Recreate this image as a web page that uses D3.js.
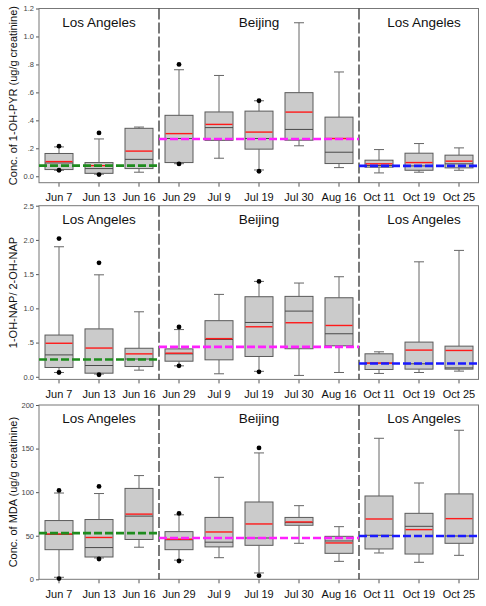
<!DOCTYPE html>
<html>
<head>
<meta charset="utf-8">
<script src="https://cdn.jsdelivr.net/npm/d3@7"></script>
<style>
  html, body { margin: 0; padding: 0; background: #fff; }
  svg { display: block; font-family: "Liberation Sans", Arial, Helvetica, sans-serif; }
</style>
</head>
<body>
<svg id="chart" width="486" height="606"></svg>
<script>
// ---------------- DATA ----------------
const categories = ["Jun 7","Jun 13","Jun 16","Jun 29","Jul 9","Jul 19","Jul 30","Aug 16","Oct 11","Oct 19","Oct 25"];

const sections = ["Los Angeles", "Beijing", "Los Angeles"];
const sectionFirst = ["Jun 7", "Jun 29", "Oct 11"];
const sectionLast  = ["Jun 16", "Aug 16", "Oct 25"];
const sectionLabelAt = ["Jun 13", "Jul 19", "Oct 19"];

// Panel 1: 1-OH-PYR (ug/g creatinine)
const pyrLow    = [0.043, 0.015, 0.029, 0.090, 0.129, 0.045, 0.218, 0.062, 0.024, 0.029, 0.043];
const pyrQ1     = [0.048, 0.021, 0.055, 0.098, 0.257, 0.194, 0.258, 0.091, 0.065, 0.043, 0.060];
const pyrMedian = [0.095, 0.055, 0.121, 0.270, 0.348, 0.270, 0.335, 0.172, 0.077, 0.074, 0.089];
const pyrMean   = [0.105, 0.076, 0.180, 0.305, 0.371, 0.316, 0.459, 0.270, 0.089, 0.098, 0.108];
const pyrQ3     = [0.163, 0.098, 0.343, 0.436, 0.460, 0.466, 0.598, 0.423, 0.115, 0.165, 0.151];
const pyrHigh   = [0.210, 0.267, 0.352, 0.762, 0.721, 0.540, 1.098, 0.746, 0.191, 0.234, 0.203];
const pyrOutliers = [[0.215, 0.043], [0.310, 0.012], [], [0.800, 0.088], [], [0.540, 0.036], [], [], [], [], []];
const pyrReference = [0.076, 0.267, 0.074];
const pyrTicks = [0, 0.2, 0.4, 0.6, 0.8, 1.0, 1.2];
const pyrTickLabels = ["0.0", ".2", ".4", ".6", ".8", "1.0", "1.2"];
const pyrDomain = [-0.046, 1.2];
const pyrTitle = "Conc. of 1-OH-PYR (ug/g creatinine)";

// Panel 2: 1-OH-NAP / 2-OH-NAP
const napLow    = [0.063, 0.040, 0.097, 0.160, 0.044, 0.080, 0.020, 0.063, 0.049, 0.063, 0.083];
const napQ1     = [0.136, 0.053, 0.150, 0.228, 0.248, 0.297, 0.410, 0.453, 0.107, 0.112, 0.112];
const napMedian = [0.320, 0.165, 0.260, 0.335, 0.545, 0.794, 0.960, 0.629, 0.200, 0.190, 0.130];
const napMean   = [0.490, 0.420, 0.335, 0.345, 0.558, 0.731, 0.790, 0.750, 0.200, 0.390, 0.385];
const napQ3     = [0.610, 0.700, 0.417, 0.408, 0.820, 1.170, 1.175, 1.155, 0.336, 0.507, 0.448];
const napHigh   = [1.900, 1.490, 0.950, 0.690, 1.204, 1.394, 1.370, 1.462, 0.365, 1.680, 1.847];
const napOutliers = [[2.02, 0.063], [1.665, 0.030], [], [0.728, 0.160], [], [1.394, 0.073], [], [], [], [], []];
const napReference = [0.252, 0.437, 0.195];
const napTicks = [0, 0.5, 1.0, 1.5, 2.0, 2.5];
const napTickLabels = ["0.0", ".5", "1.0", "1.5", "2.0", "2.5"];
const napDomain = [-0.038, 2.5];
const napTitle = "1-OH-NAP/ 2-OH-NAP";

// Panel 3: MDA (ug/g creatinine)
const mdaLow    = [2.3, 24.5, 36.8, 22.0, 24.8, 7.3, 41.3, 20.6, 30.2, 19.5, 27.5];
const mdaQ1     = [34.0, 25.6, 45.7, 34.0, 37.2, 39.0, 62.0, 29.8, 34.8, 29.0, 41.3];
const mdaMedian = [51.5, 36.4, 72.5, 45.3, 42.6, 47.4, 65.0, 44.0, 50.5, 60.8, 49.7];
const mdaMean   = [52.0, 48.0, 74.8, 46.0, 54.3, 63.5, 65.8, 41.7, 69.2, 57.0, 69.6];
const mdaQ3     = [67.4, 68.6, 104.3, 54.7, 71.0, 88.7, 71.0, 49.3, 95.6, 75.7, 98.0];
const mdaHigh   = [99.0, 98.4, 119.0, 74.0, 117.0, 145.0, 84.5, 60.4, 161.8, 110.5, 171.0];
const mdaOutliers = [[102, 0.8], [106.6, 23.3], [], [75.6, 21], [], [150.7, 4.2], [], [], [], [], []];
const mdaReference = [53.0, 47.4, 49.7];
const mdaTicks = [0, 50, 100, 150, 200];
const mdaTickLabels = ["0", "50", "100", "150", "200"];
const mdaDomain = [0, 200];
const mdaTitle = "Conc. of MDA (ug/g creatinine)";

const referenceColors = ["#1e8c1e", "#ff20ff", "#1a1aff"];

// ---------------- LAYOUT ----------------
const svg = d3.select("#chart");
const plotLeft = 39, plotRight = 478.5;
const x = d3.scaleBand().domain(categories).range([39, 479]).paddingInner(0).paddingOuter(0);
const cx = c => x(c) + x.bandwidth() / 2;
const boxW = 28, capW = 10;

const panels = [
  { low: pyrLow, q1: pyrQ1, med: pyrMedian, mean: pyrMean, q3: pyrQ3, high: pyrHigh, out: pyrOutliers,
    ref: pyrReference, ticks: pyrTicks, tickLabels: pyrTickLabels, domain: pyrDomain, title: pyrTitle,
    top: 8.5, bottom: 182.7 },
  { low: napLow, q1: napQ1, med: napMedian, mean: napMean, q3: napQ3, high: napHigh, out: napOutliers,
    ref: napReference, ticks: napTicks, tickLabels: napTickLabels, domain: napDomain, title: napTitle,
    top: 205.7, bottom: 379.4 },
  { low: mdaLow, q1: mdaQ1, med: mdaMedian, mean: mdaMean, q3: mdaQ3, high: mdaHigh, out: mdaOutliers,
    ref: mdaReference, ticks: mdaTicks, tickLabels: mdaTickLabels, domain: mdaDomain, title: mdaTitle,
    top: 405, bottom: 579.3 }
];

function divX(i) { // divider between section i and i+1
  return (cx(sectionLast[i]) + cx(sectionFirst[i + 1])) / 2;
}

panels.forEach((p, pi) => {
  const y = d3.scaleLinear().domain(p.domain).range([p.bottom, p.top]);
  const g = svg.append("g");

  // y axis
  const ya = g.append("g").attr("transform", `translate(${plotLeft},0)`)
    .call(d3.axisLeft(y).tickValues(p.ticks).tickFormat((d, i) => p.tickLabels[i]).tickSize(3).tickPadding(2));
  ya.select(".domain").remove();
  ya.selectAll(".tick line").attr("stroke", "#555");
  ya.selectAll(".tick text").attr("fill", "#444").style("font-size", "7.5px")
    .style("font-family", "'Liberation Sans', Arial, sans-serif");

  // x axis
  const xa = g.append("g").attr("transform", `translate(0,${p.bottom})`)
    .call(d3.axisBottom(x).tickSize(4).tickPadding(6.5));
  xa.select(".domain").remove();
  xa.selectAll(".tick line").attr("stroke", "#555");
  xa.selectAll(".tick text").attr("fill", "#111").style("font-size", "11px")
    .style("font-family", "'Liberation Sans', Arial, sans-serif");

  // frame
  g.append("rect").attr("x", plotLeft).attr("y", p.top)
    .attr("width", plotRight - plotLeft).attr("height", p.bottom - p.top)
    .attr("fill", "none").attr("stroke", "#777").attr("stroke-width", 1);

  // y title
  g.append("text")
    .attr("transform", `translate(12.8,${(p.top + p.bottom) / 2}) rotate(-90)`)
    .attr("text-anchor", "middle").attr("dy", "0.35em")
    .style("font-size", "11px").attr("fill", "#111").text(p.title);

  // section dividers
  [0, 1].forEach(i => {
    g.append("line").attr("x1", divX(i)).attr("x2", divX(i))
      .attr("y1", p.top).attr("y2", p.bottom)
      .attr("stroke", "#222").attr("stroke-width", 1.2).attr("stroke-dasharray", "11,3");
  });

  // section labels
  sections.forEach((s, i) => {
    g.append("text").attr("x", cx(sectionLabelAt[i]) + (i === 2 ? 5 : 0)).attr("y", p.top + 18.2)
      .attr("text-anchor", "middle").style("font-size", "13.5px").attr("fill", "#111").text(s);
  });

  // boxes
  categories.forEach((c, i) => {
    const xc = cx(c);
    const lo = p.low[i], q1 = p.q1[i], md = p.med[i], mn = p.mean[i], q3 = p.q3[i], hi = p.high[i];
    const bg = g.append("g");
    // whiskers
    bg.append("line").attr("x1", xc).attr("x2", xc).attr("y1", y(q3)).attr("y2", y(hi))
      .attr("stroke", "#666").attr("stroke-width", 1);
    bg.append("line").attr("x1", xc).attr("x2", xc).attr("y1", y(q1)).attr("y2", y(lo))
      .attr("stroke", "#666").attr("stroke-width", 1);
    bg.append("line").attr("x1", xc - capW / 2).attr("x2", xc + capW / 2).attr("y1", y(hi)).attr("y2", y(hi))
      .attr("stroke", "#666").attr("stroke-width", 1);
    bg.append("line").attr("x1", xc - capW / 2).attr("x2", xc + capW / 2).attr("y1", y(lo)).attr("y2", y(lo))
      .attr("stroke", "#666").attr("stroke-width", 1);
    // box
    bg.append("rect").attr("x", xc - boxW / 2).attr("width", boxW)
      .attr("y", y(q3)).attr("height", y(q1) - y(q3))
      .attr("fill", "#cbcbcb").attr("stroke", "#5a5a5a").attr("stroke-width", 1);
    // median
    bg.append("line").attr("x1", xc - boxW / 2).attr("x2", xc + boxW / 2)
      .attr("y1", y(md)).attr("y2", y(md)).attr("stroke", "#4a4a4a").attr("stroke-width", 1);
    // mean
    bg.append("line").attr("x1", xc - boxW / 2 + 0.5).attr("x2", xc + boxW / 2 - 0.5)
      .attr("y1", y(mn)).attr("y2", y(mn)).attr("stroke", "#ff1a1a").attr("stroke-width", 1.4);
    // outliers
    p.out[i].forEach(v => {
      bg.append("circle").attr("cx", xc).attr("cy", y(v)).attr("r", 2.4).attr("fill", "#000");
    });
  });

  // reference dashed lines per section
  sections.forEach((s, i) => {
    const x1 = i === 0 ? plotLeft : divX(i - 1);
    const x2 = i === 2 ? plotRight : divX(i);
    g.append("line").attr("x1", x1).attr("x2", x2)
      .attr("y1", y(p.ref[i])).attr("y2", y(p.ref[i]))
      .attr("stroke", referenceColors[i]).attr("stroke-width", 2.6)
      .attr("stroke-dasharray", "8,3");
  });
});
</script>
</body>
</html>
